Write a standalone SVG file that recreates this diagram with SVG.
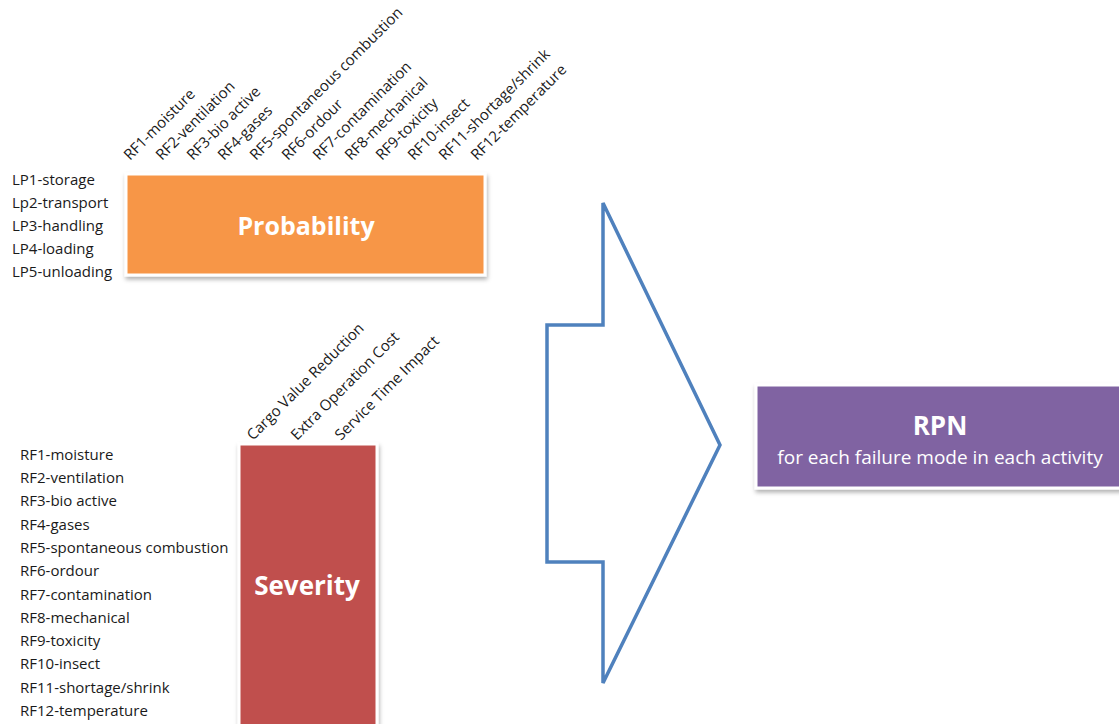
<svg xmlns="http://www.w3.org/2000/svg" width="1119" height="724" viewBox="0 0 1119 724">
<style>
text{font-family:"Open Sans","Liberation Sans",sans-serif;fill:#1a1a1a}
.lbl{font-size:15px}
.rot{font-size:15px}
.big{font-weight:bold;fill:#fff;text-anchor:middle}
.box{stroke:#fff;stroke-width:3;filter:url(#sh)}
</style>
<defs>
<filter id="sh" x="-10%" y="-10%" width="120%" height="130%">
<feDropShadow dx="1" dy="3" stdDeviation="2" flood-color="#000" flood-opacity="0.3"/>
</filter>
</defs>
<rect width="1119" height="724" fill="#fff"/>
<g id="probability">
<rect class="box" x="126" y="174" width="359" height="101" fill="#F79646"/>
<text class="big" x="306" y="235" font-size="25">Probability</text>
</g>
<g id="prob-rows">
<text class="lbl" x="12" y="185">LP1-storage</text>
<text class="lbl" x="12" y="208">Lp2-transport</text>
<text class="lbl" x="12" y="231">LP3-handling</text>
<text class="lbl" x="12" y="254">LP4-loading</text>
<text class="lbl" x="12" y="277">LP5-unloading</text>
</g>
<g id="prob-cols">
<text class="rot" transform="translate(130,161) rotate(-45)">RF1-moisture</text>
<text class="rot" transform="translate(162,161) rotate(-45)">RF2-ventilation</text>
<text class="rot" transform="translate(193,161) rotate(-45)">RF3-bio active</text>
<text class="rot" transform="translate(224,161) rotate(-45)">RF4-gases</text>
<text class="rot" transform="translate(256,161) rotate(-45)">RF5-spontaneous combustion</text>
<text class="rot" transform="translate(288,161) rotate(-45)">RF6-ordour</text>
<text class="rot" transform="translate(319,161) rotate(-45)">RF7-contamination</text>
<text class="rot" transform="translate(351,161) rotate(-45)">RF8-mechanical</text>
<text class="rot" transform="translate(382,161) rotate(-45)">RF9-toxicity</text>
<text class="rot" transform="translate(414,161) rotate(-45)">RF10-insect</text>
<text class="rot" transform="translate(445,161) rotate(-45)">RF11-shortage/shrink</text>
<text class="rot" transform="translate(477,161) rotate(-45)">RF12-temperature</text>
</g>
<g id="severity">
<rect class="box" x="239" y="444" width="138" height="285" fill="#C0504D"/>
<text class="big" x="307" y="595" font-size="26">Severity</text>
</g>
<g id="sev-cols">
<text class="rot" transform="translate(253,441) rotate(-45)">Cargo Value Reduction</text>
<text class="rot" transform="translate(297,441) rotate(-45)">Extra Operation Cost</text>
<text class="rot" transform="translate(341,441) rotate(-45)">Service Time Impact</text>
</g>
<g id="sev-rows">
<text class="lbl" x="20" y="460">RF1-moisture</text>
<text class="lbl" x="20" y="483">RF2-ventilation</text>
<text class="lbl" x="20" y="506">RF3-bio active</text>
<text class="lbl" x="20" y="530">RF4-gases</text>
<text class="lbl" x="20" y="553">RF5-spontaneous combustion</text>
<text class="lbl" x="20" y="576">RF6-ordour</text>
<text class="lbl" x="20" y="600">RF7-contamination</text>
<text class="lbl" x="20" y="623">RF8-mechanical</text>
<text class="lbl" x="20" y="646">RF9-toxicity</text>
<text class="lbl" x="20" y="669">RF10-insect</text>
<text class="lbl" x="20" y="693">RF11-shortage/shrink</text>
<text class="lbl" x="20" y="716">RF12-temperature</text>
</g>
<g id="connectors">
<polygon points="603,203 720,445 603,683 603,562 547,562 547,325 603,325" fill="#fff" stroke="#4F81BD" stroke-width="3.5" stroke-linejoin="miter"/>
</g>
<g id="rpn">
<rect class="box" x="756" y="385" width="370" height="103" fill="#8064A2"/>
<text class="big" x="940" y="435" font-size="26">RPN</text>
<text x="940" y="464" font-size="19" style="fill:#fff" text-anchor="middle">for each failure mode in each activity</text>
</g>
</svg>
